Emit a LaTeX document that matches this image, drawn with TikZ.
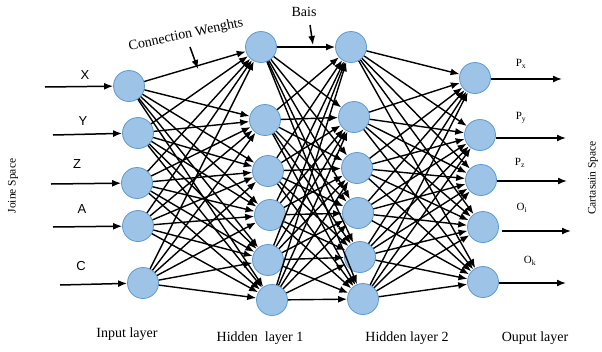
\documentclass[tikz,border=0pt]{standalone}
\usepackage{fontspec}
\setmainfont{Liberation Serif}
\newfontfamily\labsans{Liberation Sans}
\usetikzlibrary{arrows.meta}
\definecolor{nodefill}{RGB}{157,195,230}
\definecolor{nodeedge}{RGB}{91,155,213}
\tikzset{
  neuron/.style={circle,fill=nodefill,draw=nodeedge,line width=0.8pt,minimum size=31pt,inner sep=0pt},
  conn/.style={line width=1.4pt,-{Latex[length=9pt,width=7pt]}},
  iolink/.style={line width=1.5pt,-{Latex[length=9pt,width=7pt]}},
  varlabel/.style={font=\labsans\fontsize{13}{13}\selectfont},
  outlabel/.style={font=\fontsize{11}{11}\selectfont},
  layerlabel/.style={font=\fontsize{14}{14}\selectfont},
  sidelabel/.style={font=\fontsize{11.5}{11.5}\selectfont,rotate=90}
}
\begin{document}
\begin{tikzpicture}[x=1pt,y=-1pt]
\useasboundingbox (0,0) rectangle (602,351);
\fill[white] (0,0) rectangle (602,351);

% input layer
\node[neuron] (i1) at (129,86) {};
\node[neuron] (i2) at (138,133) {};
\node[neuron] (i3) at (137,183) {};
\node[neuron] (i4) at (138,226) {};
\node[neuron] (i5) at (143,283) {};

% hidden layer 1
\node[neuron] (a1) at (261,47) {};
\node[neuron] (a2) at (265,120) {};
\node[neuron] (a3) at (268,171) {};
\node[neuron] (a4) at (270,215) {};
\node[neuron] (a5) at (268,260) {};
\node[neuron] (a6) at (272,300) {};

% hidden layer 2
\node[neuron] (b1) at (351,47) {};
\node[neuron] (b2) at (354,117) {};
\node[neuron] (b3) at (357,168) {};
\node[neuron] (b4) at (358,213) {};
\node[neuron] (b5) at (360,257) {};
\node[neuron] (b6) at (363,299) {};

% output layer
\node[neuron] (o1) at (475,78) {};
\node[neuron] (o2) at (480,135) {};
\node[neuron] (o3) at (481,180) {};
\node[neuron] (o4) at (483,227) {};
\node[neuron] (o5) at (483,282) {};

% fully connected weights
\foreach \s in {i1,i2,i3,i4,i5}
  \foreach \t in {a1,a2,a3,a4,a5,a6}
    \draw[conn] (\s) -- (\t);
\foreach \s in {a1,a2,a3,a4,a5,a6}
  \foreach \t in {b1,b2,b3,b4,b5,b6}
    \draw[conn] (\s) -- (\t);
\foreach \s in {b1,b2,b3,b4,b5,b6}
  \foreach \t in {o1,o2,o3,o4,o5}
    \draw[conn] (\s) -- (\t);

% inputs
\coordinate (xin) at (45,87);
\coordinate (yin) at (53,135);
\coordinate (zin) at (51,184);
\coordinate (ain) at (53,227);
\coordinate (cin) at (60,285);
\draw[iolink] (xin) -- (i1);
\draw[iolink] (yin) -- (i2);
\draw[iolink] (zin) -- (i3);
\draw[iolink] (ain) -- (i4);
\draw[iolink] (cin) -- (i5);
\node[varlabel] (lx) at (85,75) {X};
\node[varlabel] (ly) at (83,121) {Y};
\node[varlabel] (lz) at (77,164) {Z};
\node[varlabel] (la) at (82,209) {A};
\node[varlabel] (lc) at (81,266) {C};

% outputs
\coordinate (pxout) at (562,79);
\coordinate (pyout) at (566,138);
\coordinate (pzout) at (567,181);
\coordinate (oiout) at (571,231);
\coordinate (okout) at (566,283);
\draw[iolink] (o1.east |- pxout) -- (pxout);
\draw[iolink] (o2.east |- pyout) -- (pyout);
\draw[iolink] (o3.east |- pzout) -- (pzout);
\draw[iolink] ([xshift=3pt]o4.east |- oiout) -- (oiout);
\draw[iolink] (o5.east |- okout) -- (okout);
\node[outlabel] (lpx) at (521,64) {P$_{\mathrm{x}}$};
\node[outlabel] (lpy) at (521,118) {P$_{\mathrm{y}}$};
\node[outlabel] (lpz) at (520,163) {P$_{\mathrm{z}}$};
\node[outlabel] (loi) at (522,208) {O$_{\mathrm{i}}$};
\node[outlabel] (lok) at (530,261) {O$_{\mathrm{k}}$};

% annotations
\node[layerlabel,rotate=12] (cw) at (186,35) {Connection Wenghts};
\coordinate (cwa) at (190,47);
\coordinate (cwb) at (198,69);
\draw[iolink] (cwa) -- (cwb);
\node[layerlabel] (bias) at (304,12) {Bais};
\coordinate (ba) at (310,25);
\coordinate (bb) at (313,45);
\draw[iolink] (ba) -- (bb);

% layer captions
\node[layerlabel] (cin1) at (127,334) {Input layer};
\node[layerlabel] (ch1) at (260,338) {Hidden\ \ layer 1};
\node[layerlabel] (ch2) at (407,338) {Hidden layer 2};
\node[layerlabel] (cout) at (535,338) {Ouput layer};

% space captions
\node[sidelabel] (js) at (13,186) {Joine Space};
\node[sidelabel] (cs) at (593,178) {Cartasain Space};
\end{tikzpicture}
\end{document}
